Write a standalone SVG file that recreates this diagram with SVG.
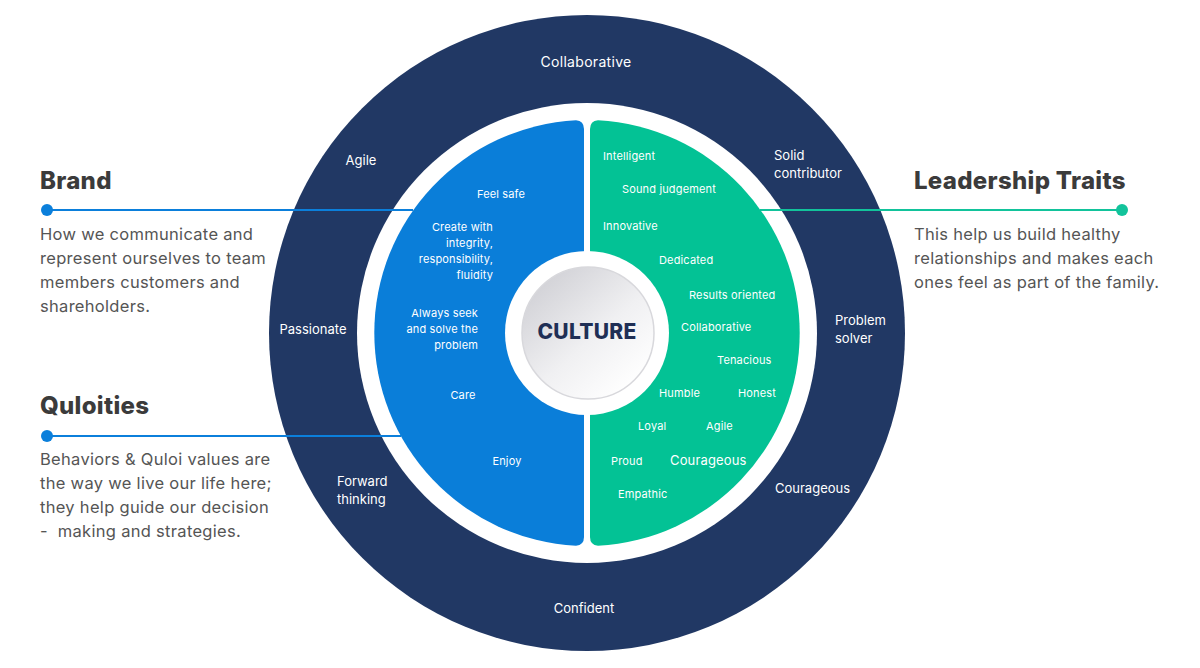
<svg xmlns="http://www.w3.org/2000/svg" width="1200" height="668" viewBox="0 0 1200 668">
<style>
text{font-family:Inter,"Open Sans","Liberation Sans",sans-serif}
.ring{fill:#fff;font-size:13px}
.in{fill:#fff;font-size:11px;letter-spacing:0.15px}
.head{fill:#3b3b3b;font-size:24px;font-weight:800;letter-spacing:0.3px}
.body{fill:#555;font-size:16.5px;letter-spacing:0.3px}
.lineB{stroke:#0b7fdb;stroke-width:2;fill:none}
.lineG{stroke:#12c39b;stroke-width:2;fill:none}
</style>
<defs>
<linearGradient id="cg" x1="0.15" y1="0.1" x2="0.85" y2="0.9">
<stop offset="0" stop-color="#d2d2d7"/>
<stop offset="0.55" stop-color="#f0f0f2"/>
<stop offset="1" stop-color="#ffffff"/>
</linearGradient>
</defs>
<rect width="1200" height="668" fill="#fff"/>
<g id="outer-ring">
<circle cx="587" cy="333" r="318" fill="#213864"/>
<circle cx="587" cy="333" r="230" fill="#fff"/>
<text class="ring" x="586" y="67" text-anchor="middle" style="font-size:14px;letter-spacing:0.3px">Collaborative</text>
<text class="ring" x="361" y="165" text-anchor="middle">Agile</text>
<text class="ring" x="774" y="160">Solid</text>
<text class="ring" x="774" y="178">contributor</text>
<text class="ring" x="313" y="334" text-anchor="middle">Passionate</text>
<text class="ring" x="835" y="325">Problem</text>
<text class="ring" x="835" y="343">solver</text>
<text class="ring" x="337" y="486">Forward</text>
<text class="ring" x="337" y="504">thinking</text>
<text class="ring" x="775" y="493">Courageous</text>
<text class="ring" x="584" y="613" text-anchor="middle">Confident</text>
</g>
<g id="connectors">
<line class="lineB" x1="47" y1="210" x2="413" y2="210"/>
<circle cx="47" cy="210" r="6" fill="#0b7fdb"/>
<line class="lineB" x1="47" y1="436" x2="401" y2="436"/>
<circle cx="47" cy="436" r="6" fill="#0b7fdb"/>
<line class="lineG" x1="760" y1="210" x2="1122" y2="210"/>
<circle cx="1122" cy="210" r="6" fill="#12c39b"/>
</g>
<g id="blue-half">
<path d="M584 129 L584 537 Q584 545 576 545.7 A213 213 0 0 1 576 120.3 Q584 121 584 129 Z" fill="#0a7ed9"/>
<text class="in" x="501" y="198" text-anchor="middle">Feel safe</text>
<text class="in" text-anchor="end"><tspan x="493" y="231">Create with</tspan><tspan x="493" y="247">integrity,</tspan><tspan x="493" y="263">responsibility,</tspan><tspan x="493" y="279">fluidity</tspan></text>
<text class="in" text-anchor="end"><tspan x="478" y="317">Always seek</tspan><tspan x="478" y="333">and solve the</tspan><tspan x="478" y="349">problem</tspan></text>
<text class="in" x="463" y="399" text-anchor="middle">Care</text>
<text class="in" x="507" y="465" text-anchor="middle">Enjoy</text>
</g>
<g id="green-half">
<path d="M590 129 Q590 121 598 120.3 A213 213 0 0 1 598 545.7 Q590 545 590 537 Z" fill="#03c295"/>
<text class="in" x="603" y="160">Intelligent</text>
<text class="in" x="622" y="193">Sound judgement</text>
<text class="in" x="603" y="230">Innovative</text>
<text class="in" x="659" y="264">Dedicated</text>
<text class="in" x="689" y="299">Results oriented</text>
<text class="in" x="681" y="331">Collaborative</text>
<text class="in" x="717" y="364">Tenacious</text>
<text class="in" x="659" y="397">Humble</text>
<text class="in" x="738" y="397">Honest</text>
<text class="in" x="638" y="430">Loyal</text>
<text class="in" x="706" y="430">Agile</text>
<text class="in" x="611" y="465">Proud</text>
<text class="in" x="670" y="465" style="font-size:13px">Courageous</text>
<text class="in" x="618" y="498">Empathic</text>
</g>
<g id="culture">
<circle cx="587" cy="333" r="82" fill="#fff"/>
<circle cx="588" cy="333" r="66" fill="url(#cg)" stroke="#d8d8dc" stroke-width="1.5"/>
<text x="587" y="339" text-anchor="middle" style="font-size:21px;font-weight:800;fill:#1f2f55;letter-spacing:0.3px">CULTURE</text>
</g>
<g id="brand">
<text class="head" x="40" y="189">Brand</text>
<text class="body"><tspan x="40" y="240">How we communicate and</tspan><tspan x="40" y="264">represent ourselves to team</tspan><tspan x="40" y="288">members customers and</tspan><tspan x="40" y="312">shareholders.</tspan></text>
</g>
<g id="quloities">
<text class="head" x="40" y="414">Quloities</text>
<text class="body"><tspan x="40" y="465">Behaviors &amp; Quloi values are</tspan><tspan x="40" y="489">the way we live our life here;</tspan><tspan x="40" y="513">they help guide our decision</tspan><tspan x="40" y="537">-&#160; making and strategies.</tspan></text>
</g>
<g id="leadership">
<text class="head" x="914" y="189">Leadership Traits</text>
<text class="body"><tspan x="914" y="240">This help us build healthy</tspan><tspan x="914" y="264">relationships and makes each</tspan><tspan x="914" y="288">ones feel as part of the family.</tspan></text>
</g>
</svg>
